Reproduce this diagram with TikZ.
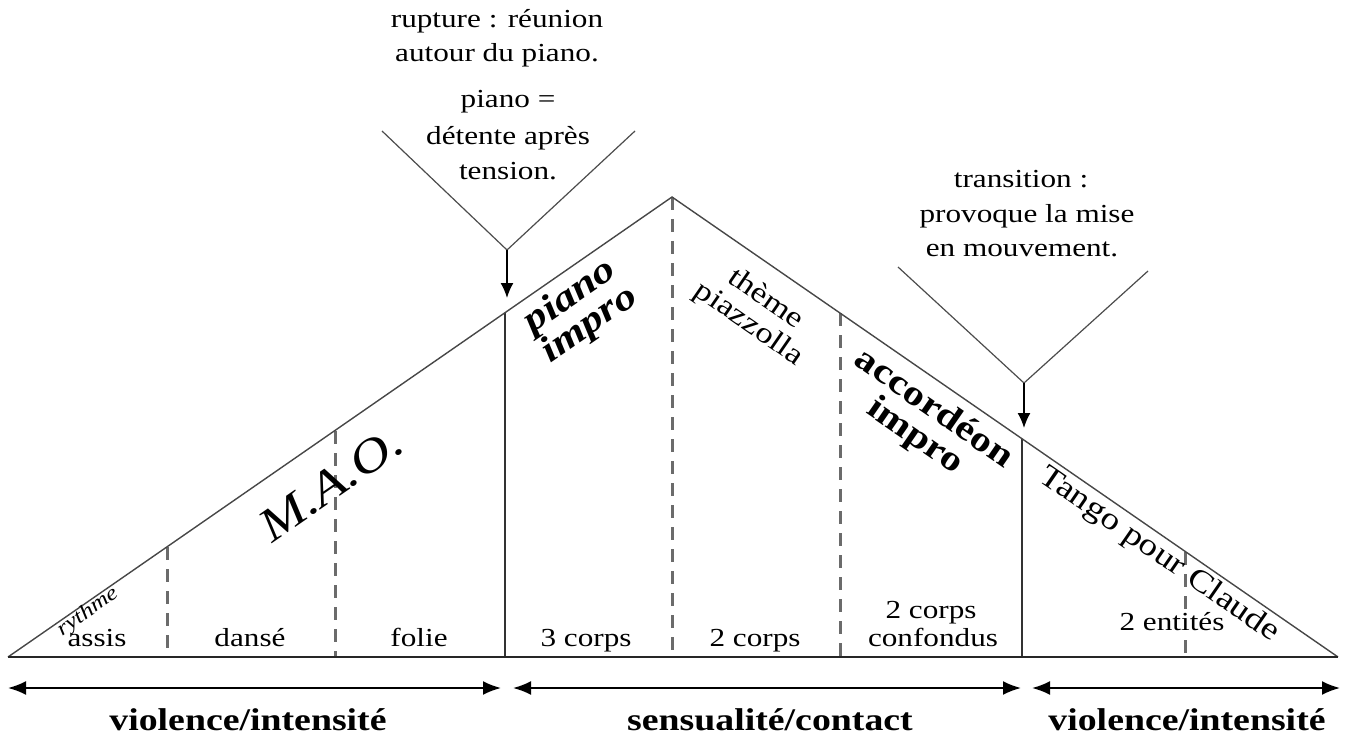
\documentclass[tikz,border=0pt]{standalone}
\usepackage{fontspec}
\setmainfont{Liberation Serif}[FakeStretch=1.2]
\usetikzlibrary{arrows.meta}
\begin{document}
\begin{tikzpicture}[x=1pt,y=-1pt,
  outline/.style={draw=black!72, line width=1.4pt, line join=miter},
  baseln/.style={draw=black!85, line width=2.6pt},
  solidv/.style={draw=black!80, line width=1.8pt},
  dashv/.style={draw=black!58, line width=3pt, dash pattern=on 13pt off 9pt},
  vline/.style={draw=black!70, line width=1.2pt},
  darrow/.style={line width=2pt, {Latex[length=18pt,width=14pt]}-{Latex[length=18pt,width=14pt]}},
  downarrow/.style={line width=1.6pt, -{Latex[length=15pt,width=13pt]}},
  lbl/.style={font=\fontsize{26}{34}\selectfont, inner sep=0pt, anchor=base},
  big/.style={font=\bfseries\fontsize{31.5}{36}\selectfont, inner sep=0pt, anchor=base},
  slant/.style={inner sep=0pt, align=center},
]
\useasboundingbox (0,0) rectangle (1348,735);
% main triangle
\coordinate (L) at (8,657);
\coordinate (A) at (672,197);
\coordinate (R) at (1338,657);
% vertical dividers
\coordinate (t1) at (167,547);  \coordinate (b1) at (167,657);
\coordinate (t2) at (335,431);  \coordinate (b2) at (335,657);
\coordinate (t3) at (505,313);  \coordinate (b3) at (505,657);
\coordinate (t4) at (672,197);  \coordinate (b4) at (672,657);
\coordinate (t5) at (840,313);  \coordinate (b5) at (840,657);
\coordinate (t6) at (1022,439); \coordinate (b6) at (1022,657);
\coordinate (t7) at (1185,552); \coordinate (b7) at (1185,657);

\draw[dashv] (t1) -- (b1);
\draw[dashv] (t2) -- (b2);
\draw[dashv] (t4) -- (b4);
\draw[dashv] (t5) -- (b5);
\draw[dashv] (t7) -- (b7);
\draw[solidv] (t3) -- (b3);
\draw[solidv] (t6) -- (b6);
\draw[outline] (L) -- (A) -- (R);
\draw[baseln] (L) -- (R);

% bottom double arrows
\coordinate (a1l) at (8,688);    \coordinate (a1r) at (501,688);
\coordinate (a2l) at (513,688);  \coordinate (a2r) at (1021,688);
\coordinate (a3l) at (1032,688); \coordinate (a3r) at (1340,688);
\draw[darrow] (a1l) -- (a1r);
\draw[darrow] (a2l) -- (a2r);
\draw[darrow] (a3l) -- (a3r);

% V shapes with arrows
\coordinate (v1l) at (382,131); \coordinate (v1) at (507,250);
\coordinate (v1r) at (635,131); \coordinate (v1t) at (507,298);
\draw[vline] (v1l) -- (v1) -- (v1r);
\draw[downarrow] (v1) -- (v1t);
\coordinate (v2l) at (898,267); \coordinate (v2) at (1024,383);
\coordinate (v2r) at (1148,271); \coordinate (v2t) at (1024,428);
\draw[vline] (v2l) -- (v2) -- (v2r);
\draw[downarrow] (v2) -- (v2t);

% cell labels
\node[lbl] (assis) at (97,646) {assis};
\node[lbl] (danse) at (250,646) {dansé};
\node[lbl] (folie) at (419,646) {folie};
\node[lbl] (c3) at (586,646) {3 corps};
\node[lbl] (c2) at (755,646) {2 corps};
\node[lbl] (cc1) at (931,618) {2 corps};
\node[lbl] (cc2) at (933,646) {confondus};
\node[lbl, fill=white, inner sep=1pt] (ent) at (1172,630) {2 entités};

% top annotations
\node[lbl] (r1) at (497,28) {rupture : réunion};
\node[lbl] (r2) at (497,62) {autour du piano.};
\node[lbl] (p1) at (508,108) {piano =};
\node[lbl] (p2) at (508,145) {détente après};
\node[lbl] (p3) at (508,180) {tension.};
\node[lbl] (tr1) at (1021,188) {transition :};
\node[lbl] (tr2) at (1027,223) {provoque la mise};
\node[lbl] (tr3) at (1022,257) {en mouvement.};

% bottom labels
\node[big] (vi1) at (248,730) {violence/intensité};
\node[big] (sc) at (770,730) {sensualité/contact};
\node[big] (vi2) at (1187,730) {violence/intensité};

% slanted labels
\node[slant, rotate=34.7, font=\itshape\fontsize{21}{21}\selectfont] (ry) at (88,612) {rythme};
\node[slant, rotate=34.7, font=\itshape\fontsize{47}{47}\selectfont] (mao) at (331,484) {M.A.O.};
\node[slant, rotate=34.7, font=\bfseries\itshape\fontsize{37}{34}\selectfont] (pi) at (580,311) {piano\\impro};
\node[slant, rotate=-34.7, font=\fontsize{29}{30}\selectfont] (th) at (757,312) {thème\\piazzolla};
\node[slant, rotate=-34.7, font=\bfseries\fontsize{35}{33}\selectfont] (ac) at (924,423) {accordéon\\impro};
\node[slant, rotate=-34.7, font=\fontsize{31}{31}\selectfont] (tg) at (1159,555) {Tango pour Claude};
\end{tikzpicture}
\end{document}
